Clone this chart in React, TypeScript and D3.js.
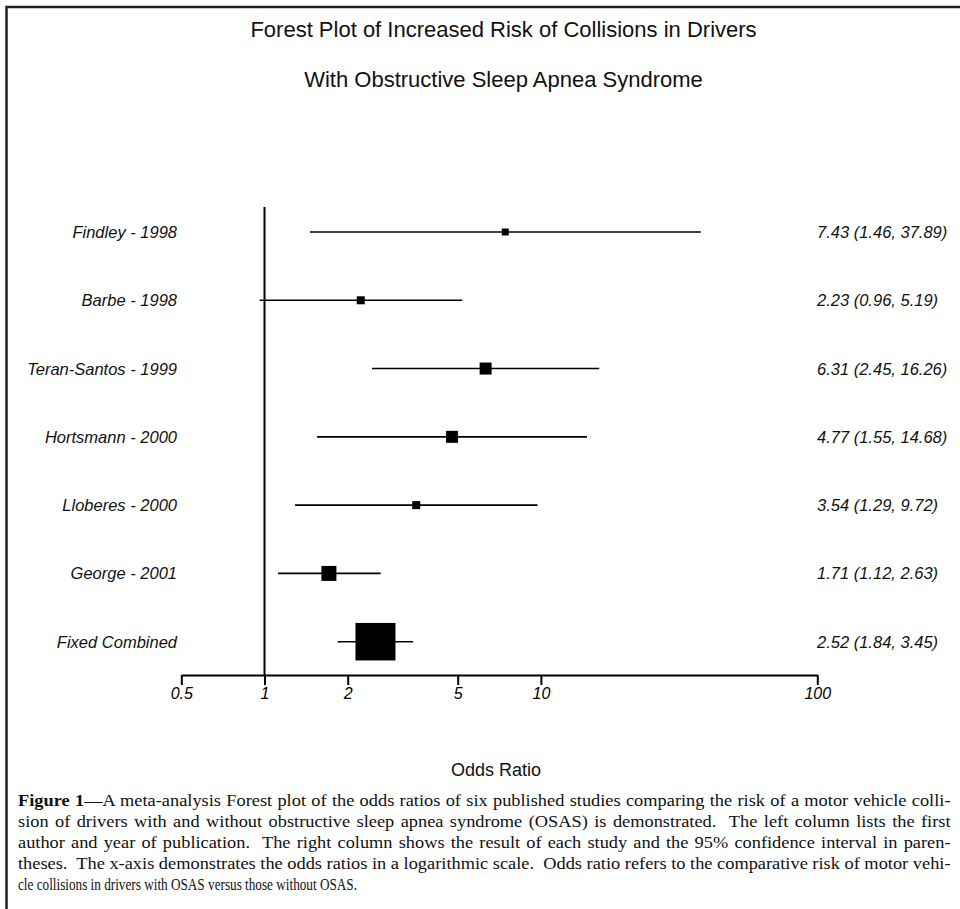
import { useEffect, useRef } from 'react';
import * as d3 from 'd3';

// studies (left column) and their odds ratios with 95% CI
const studies = [
  'Findley - 1998',
  'Barbe - 1998',
  'Teran-Santos - 1999',
  'Hortsmann - 2000',
  'Lloberes - 2000',
  'George - 2001',
];
const oddsRatios = [7.43, 2.23, 6.31, 4.77, 3.54, 1.71];
const lowerCI = [1.46, 0.96, 2.45, 1.55, 1.29, 1.12];
const upperCI = [37.89, 5.19, 16.26, 14.68, 9.72, 2.63];
// relative weight of each study (drives the square size)
const weights = [7, 8, 12, 12, 8, 15];

const combinedLabel = 'Fixed Combined';
const combinedOR = 2.52;
const combinedLower = 1.84;
const combinedUpper = 3.45;

const tickValues = [0.5, 1, 2, 5, 10, 100];

const titleLines = [
  'Forest Plot of Increased Risk of Collisions in Drivers',
  'With Obstructive Sleep Apnea Syndrome',
];

const captionLines = [
  'A meta-analysis Forest plot of the odds ratios of six published studies comparing the risk of a motor vehicle colli-',
  'sion of drivers with and without obstructive sleep apnea syndrome (OSAS) is demonstrated.  The left column lists the first',
  'author and year of publication.  The right column shows the result of each study and the 95% confidence interval in paren-',
  'theses.  The x-axis demonstrates the odds ratios in a logarithmic scale.  Odds ratio refers to the comparative risk of motor vehi-',
  'cle collisions in drivers with OSAS versus those without OSAS.',
];

const fmt = (v: number) => v.toFixed(2);

export default function App() {
  const svgRef = useRef<SVGSVGElement>(null);

  useEffect(() => {
    if (!svgRef.current) return;
    document.body.style.margin = '0';

    const svg = d3.select(svgRef.current);
    svg.selectAll('*').remove();

    const width = 960;
    const height = 909;
    const sans = '"Liberation Sans", Arial, sans-serif';
    const serif = '"Liberation Serif", "Times New Roman", serif';

    svg.attr('width', width).attr('height', height);

    // frame (top + left only)
    svg.append('path')
      .attr('d', `M6.5,${height} V7 H${width}`)
      .attr('fill', 'none')
      .attr('stroke', '#222')
      .attr('stroke-width', 2.5);

    // titles
    svg.selectAll('.title')
      .data(titleLines)
      .enter()
      .append('text')
      .attr('class', 'title')
      .attr('x', 503.5)
      .attr('y', (_, i) => 37 + i * 50)
      .attr('text-anchor', 'middle')
      .attr('font-family', sans)
      .attr('font-size', '22px')
      .attr('fill', '#111')
      .text(d => d);

    const x = d3.scaleLog().domain([0.5, 100]).range([181.3, 817.3]);

    const rows = [...studies, combinedLabel];
    const y = d3.scalePoint<string>()
      .domain(rows)
      .range([232, 641.7]);

    const size = d3.scaleLinear().domain([0, 15]).range([0, 15]);

    const axisY = 675;

    // line of no effect
    svg.append('line')
      .attr('x1', x(1))
      .attr('x2', x(1))
      .attr('y1', 207)
      .attr('y2', axisY)
      .attr('stroke', '#000')
      .attr('stroke-width', 2);

    // x axis
    const axis = svg.append('g')
      .attr('transform', `translate(0,${axisY})`)
      .call(
        d3.axisBottom(x)
          .tickValues(tickValues)
          .tickFormat(d => String(d))
          .tickSize(10)
          .tickSizeOuter(0)
          .tickPadding(3)
      );
    axis.select('.domain').attr('stroke', '#000').attr('stroke-width', 2);
    axis.selectAll('.tick line').attr('stroke', '#000').attr('stroke-width', 2);
    axis.selectAll('.tick text')
      .attr('fill', '#000')
      .attr('font-family', sans)
      .attr('font-size', '16px')
      .attr('font-style', 'italic');

    const data = studies.map((s, i) => ({
      label: s,
      or: oddsRatios[i],
      lo: lowerCI[i],
      hi: upperCI[i],
      w: size(weights[i]),
      h: size(weights[i]),
    }));
    data.push({
      label: combinedLabel,
      or: combinedOR,
      lo: combinedLower,
      hi: combinedUpper,
      w: 40,
      h: 37.5,
    });

    const row = svg.selectAll('.row')
      .data(data)
      .enter()
      .append('g')
      .attr('class', 'row')
      .attr('transform', d => `translate(0,${y(d.label)})`);

    // confidence intervals
    row.append('line')
      .attr('x1', d => x(d.lo))
      .attr('x2', d => x(d.hi))
      .attr('stroke', '#000')
      .attr('stroke-width', 1.6);

    // point estimates
    row.append('rect')
      .attr('x', d => x(d.or) - d.w / 2)
      .attr('y', d => -d.h / 2)
      .attr('width', d => d.w)
      .attr('height', d => d.h)
      .attr('fill', '#000');

    // left column
    row.append('text')
      .attr('x', 177)
      .attr('y', 6)
      .attr('text-anchor', 'end')
      .attr('font-family', sans)
      .attr('font-size', '16.5px')
      .attr('font-style', 'italic')
      .attr('fill', '#111')
      .text(d => d.label);

    // right column
    row.append('text')
      .attr('x', 817)
      .attr('y', 6)
      .attr('font-family', sans)
      .attr('font-size', '16.5px')
      .attr('font-style', 'italic')
      .attr('fill', '#111')
      .text(d => `${fmt(d.or)} (${fmt(d.lo)}, ${fmt(d.hi)})`);

    // axis title
    svg.append('text')
      .attr('x', 496)
      .attr('y', 776)
      .attr('text-anchor', 'middle')
      .attr('font-family', sans)
      .attr('font-size', '18px')
      .attr('fill', '#111')
      .text('Odds Ratio');

    // caption: condensed serif, justified by word spacing
    const capLeft = 18;
    const capWidth = 933;
    const lastWidth = 339;
    const cap = svg.append('g');
    const texts = captionLines.map((line, i) => {
      const t = cap.append('text')
        .attr('y', 806 + i * 21)
        .attr('font-family', serif)
        .attr('font-size', '17px')
        .attr('fill', '#111')
        .style('white-space', 'pre');
      if (i === 0) {
        t.append('tspan').attr('font-weight', 'bold').text('Figure 1');
        t.append('tspan').text('\u2014' + line);
      } else {
        t.text(line);
      }
      return t;
    });
    const naturals = texts.map(t => (t.node() as SVGTextElement).getComputedTextLength());
    const sx = capWidth / (d3.max(naturals.slice(0, -1)) || capWidth);
    cap.attr('transform', `scale(${sx},1)`);
    texts.forEach((t, i) => {
      t.attr('x', capLeft / sx);
      if (i === texts.length - 1) {
        t.attr('textLength', lastWidth / sx).attr('lengthAdjust', 'spacingAndGlyphs');
        return;
      }
      const full = (i === 0 ? 'Figure 1\u2014' : '') + captionLines[i];
      const spaces = (full.match(/ /g) || []).length;
      t.attr('word-spacing', (capWidth / sx - naturals[i]) / spaces);
    });
  }, []);

  return <svg ref={svgRef} style={{ display: 'block' }}></svg>;
}
